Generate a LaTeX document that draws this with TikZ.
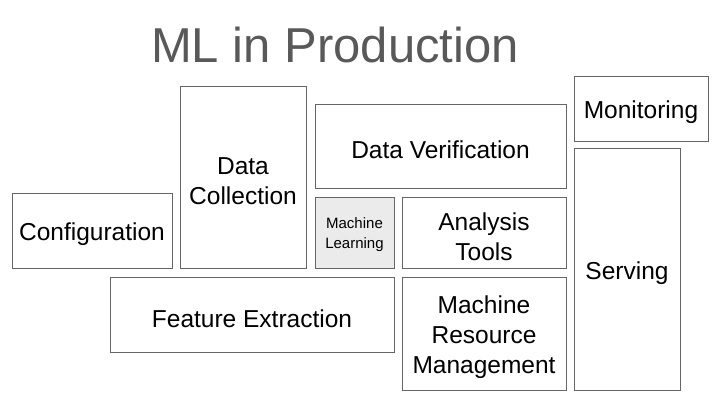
\documentclass[tikz,border=0pt]{standalone}
\usepackage{fontspec}
\setmainfont{Liberation Sans}
\begin{document}
\begin{tikzpicture}[x=1pt,y=-1pt,
 box/.style={draw=black!60,line width=0.6pt,align=center,font=\fontsize{24.5}{30}\selectfont,inner sep=0pt},
 lbl/.style={midway,yshift=-4pt}]
\useasboundingbox (0,0) rectangle (720,405);
\node[font=\fontsize{49}{52}\selectfont,text=black!65] (title) at (335,45) {ML in Production};
\draw[box] (12,193) rectangle (172,268) node[lbl] (conf) {Configuration};
\draw[box] (180,86) rectangle (306,268) node[lbl] (dc) {Data\\Collection};
\draw[box] (315,104) rectangle (566,188) node[lbl] (dv) {Data Verification};
\draw[box,fill=black!8] (315,197) rectangle (394,268) node[lbl,yshift=2pt,font=\fontsize{15}{20}\selectfont] (ml) {Machine\\Learning};
\draw[box] (402,197) rectangle (566,268) node[lbl] (at) {Analysis\\Tools};
\draw[box] (110,277) rectangle (394,352) node[lbl] (fe) {Feature Extraction};
\draw[box] (402,277) rectangle (566,390) node[lbl] (mrm) {Machine\\Resource\\Management};
\draw[box] (574,76) rectangle (708,141) node[lbl] (mon) {Monitoring};
\draw[box] (574,148) rectangle (680,390) node[lbl] (srv) {Serving};
\end{tikzpicture}
\end{document}
